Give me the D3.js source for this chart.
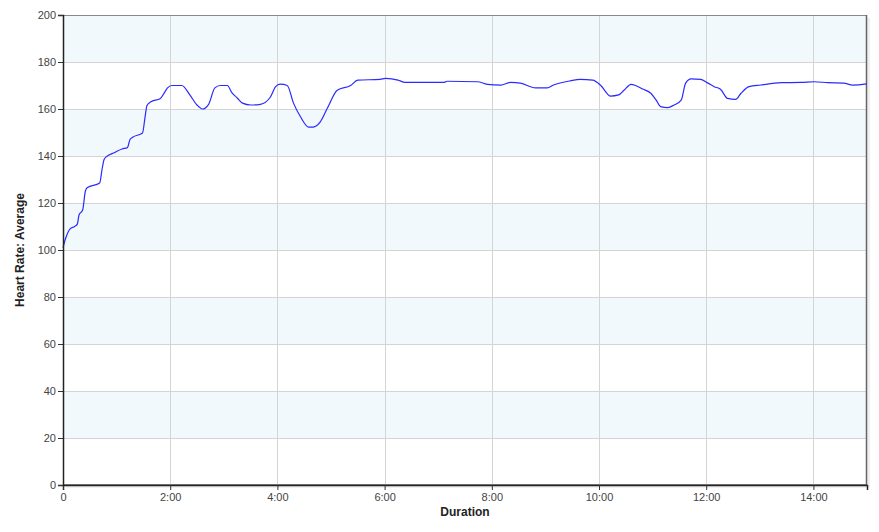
<!DOCTYPE html>
<html><head><meta charset="utf-8">
<script src="https://cdn.jsdelivr.net/npm/d3@7"></script>
<style>body{margin:0;background:#fff;font-family:"Liberation Sans",Arial,sans-serif;}</style>
</head><body><svg id="c" width="879" height="532"></svg>
<script>
const durationSec = [0,3,8,13,16,18,22,25,27,41,44,46,48,58,66,72,75,78,89,92,94,98,109,112,117,122,133,142,150,156,163,170,176,184,189,195,201,210,221,232,238,243,251,258,266,275,280,288,296,307,322,330,355,361,375,383,426,430,464,475,490,501,512,529,542,549,568,579,593,602,613,622,628,636,641,649,658,664,669,677,684,692,697,703,714,722,729,736,744,753,759,768,781,804,826,841,856,874,884,900];
const heartRate = [101,105,109,110,111,115,117,125,126.5,128.5,135,138.5,139.5,141.5,143,143.5,147,148,149.8,157,161.5,163,164.5,166,169,170,170,166,161.7,160,162,169,170,170,167,164.7,162.5,161.7,162,165,169.5,170.6,170,162.5,156.6,152.3,152.3,154.5,160.4,168,170,172.3,172.6,173,172.3,171.3,171.3,171.8,171.6,170.5,170.2,171.3,171,169,169,170.2,172,172.6,172.3,170,165.5,166,168,170.5,170,168.5,166.7,163.8,161,160.6,161.7,163.8,171,172.8,172.6,171,169.5,168.4,164.5,164.1,166.7,169.5,170.2,171.2,171.3,171.6,171.2,171,170.2,170.7];
const xTickSec = [0,120,240,360,480,600,720,840];
const yTicks = [0,20,40,60,80,100,120,140,160,180,200];
const xTitle = "Duration";
const yTitle = "Heart Rate: Average";

const svg = d3.select("#c");
const m = {l:63, r:12, t:15, b:47};
const W = 879 - m.l - m.r, H = 532 - m.t - m.b;
const x = d3.scaleLinear().domain([0,900]).range([m.l, m.l+W]);
const y = d3.scaleLinear().domain([0,200]).range([m.t+H, m.t]);

// shadow
svg.append("rect").attr("x",m.l+3).attr("y",m.t+3).attr("width",W).attr("height",H).attr("fill","#f0f0f0");
svg.append("rect").attr("x",m.l).attr("y",m.t).attr("width",W).attr("height",H).attr("fill","#fff");
// bands
const bands = yTicks.slice(0,-1).filter((d,i)=>i%2===1);
svg.selectAll("rect.band").data(bands).enter().append("rect").attr("class","band")
  .attr("x",m.l).attr("width",W).attr("y",d=>y(d+20)).attr("height",d=>y(d)-y(d+20)).attr("fill","#f1f9fd");
// grid
svg.selectAll("line.hg").data(yTicks.slice(1,-1)).enter().append("line")
  .attr("x1",m.l).attr("x2",m.l+W).attr("y1",d=>Math.round(y(d))+0.5).attr("y2",d=>Math.round(y(d))+0.5)
  .attr("stroke","#d4d4d4");
svg.selectAll("line.vg").data(xTickSec.slice(1)).enter().append("line")
  .attr("y1",m.t).attr("y2",m.t+H).attr("x1",d=>Math.round(x(d))+0.5).attr("x2",d=>Math.round(x(d))+0.5)
  .attr("stroke","#d4d4d4");
// frame
svg.append("rect").attr("x",m.l+0.5).attr("y",m.t+0.5).attr("width",W-1).attr("height",H-1)
  .attr("fill","none").attr("stroke","#888");
svg.append("line").attr("x1",m.l+W-0.5).attr("x2",m.l+W-0.5).attr("y1",m.t).attr("y2",m.t+H)
  .attr("stroke","#666").attr("stroke-width",1.5);

// line
const line = d3.line().x((d,i)=>x(durationSec[i])).y(d=>y(d)).curve(d3.curveMonotoneX);
svg.append("path").datum(heartRate).attr("d",line).attr("fill","none").attr("stroke","#2a2aff").attr("stroke-width",1.2);

// axes
const fmt = s => s===0 ? "0" : (Math.floor(s/60)+":"+String(s%60).padStart(2,"0"));
const xa = svg.append("g").attr("transform",`translate(0,${m.t+H})`)
  .call(d3.axisBottom(x).tickValues(xTickSec).tickFormat(fmt).tickSize(5).tickPadding(3));
const ya = svg.append("g").attr("transform",`translate(${m.l},0)`)
  .call(d3.axisLeft(y).tickValues(yTicks).tickSize(5).tickPadding(2));
[xa,ya].forEach(a=>{
  a.attr("color","#444");
  a.selectAll("text").attr("fill","#444").style("font-size","11px").style("font-family","Liberation Sans, Arial, sans-serif");
  a.selectAll("line").attr("stroke","#333");
  a.select(".domain").attr("stroke","#222").attr("stroke-width",1.5);
});
svg.append("text").attr("x",465).attr("y",516).attr("text-anchor","middle")
  .style("font-size","12px").style("font-weight","bold").attr("fill","#222").text(xTitle);
svg.append("text").attr("transform",`translate(24,${m.t+H/2}) rotate(-90)`).attr("text-anchor","middle")
  .style("font-size","12px").style("font-weight","bold").attr("fill","#222").text(yTitle);
</script></body></html>
